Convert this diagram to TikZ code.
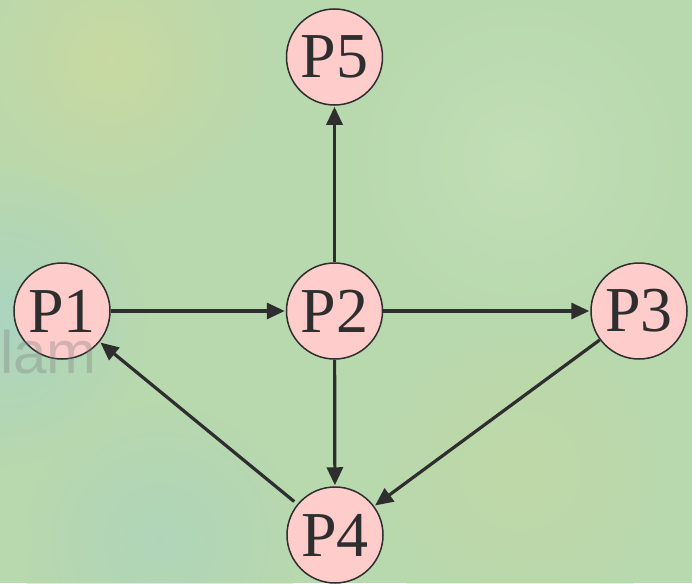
\documentclass[tikz,border=0pt]{standalone}
\usepackage{fontspec}
\setmainfont{Liberation Serif}
\newfontfamily\bgsans{Liberation Sans}
\usetikzlibrary{arrows.meta}
\definecolor{bgbase}{HTML}{B8D8AE}
\definecolor{bgteal}{HTML}{A8D4C4}
\definecolor{bgyellow}{HTML}{CCDA9E}
\definecolor{bglight}{HTML}{C6E2BA}
\definecolor{nodefill}{HTML}{FFCCCC}
\definecolor{ink}{HTML}{2E2E2E}
\tikzset{
  proc/.style={circle, draw=ink, line width=1.5pt, fill=nodefill, minimum size=96pt, inner sep=0pt, text=ink, font=\fontsize{64}{64}\selectfont},
  conn/.style={draw=ink, line width=3.2pt, -{Triangle[length=18pt,width=16pt]}, shorten >=1pt}
}
\begin{document}
\begin{tikzpicture}[x=1pt,y=-1pt]
\useasboundingbox (0,0) rectangle (692,583);
% background
\fill[bgbase] (0,0) rectangle (692,583);
\begin{scope}
\clip (0,0) rectangle (692,583);
\shade[inner color=bgyellow, outer color=bgbase, opacity=0.8] (110,60) circle (170);
\shade[inner color=bgteal, outer color=bgbase, opacity=0.8] (0,320) circle (150);
\shade[inner color=bglight, outer color=bgbase, opacity=0.7] (520,160) circle (180);
\shade[inner color=bgteal, outer color=bgbase, opacity=0.5] (160,540) circle (140);
\shade[inner color=bgyellow, outer color=bgbase, opacity=0.4] (520,470) circle (160);
\end{scope}
% nodes
\node[proc] (p5) at (334.5,57) {P5};
\node[proc] (p1) at (62,311) {P1};
\node[proc] (p2) at (334.5,311) {P2};
\node[proc] (p3) at (639,311) {P3};
\node[proc] (p4) at (335,535) {P4};
% faint watermark text showing through
\node[text=gray, opacity=0.35, font=\bgsans\fontsize{60}{60}\selectfont, anchor=base west, inner sep=0pt] (wm) at (0,373) {lam};
% connectors
\draw[conn] (p2) -- (p5);
\draw[conn] (p1) -- (p2);
\draw[conn] (p2) -- (p3);
\draw[conn] (p2) -- (p4);
\draw[conn] (p3) -- (p4);
\draw[conn, shorten <=4pt] (p4) -- (p1);
\end{tikzpicture}
\end{document}
